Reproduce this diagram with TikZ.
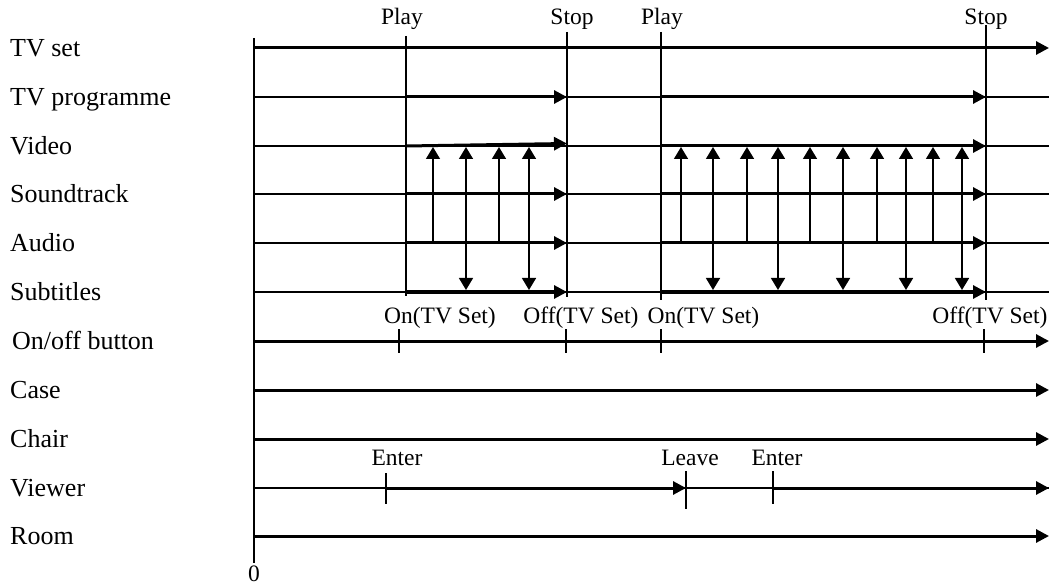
\documentclass[tikz,border=0pt]{standalone}
\usepackage{fontspec}
\setmainfont{Liberation Serif}
\usetikzlibrary{arrows.meta}
\begin{document}
\begin{tikzpicture}[x=1pt,y=-1pt,
  thinline/.style={line width=1.2pt},
  thickarrow/.style={line width=3pt,-{Triangle[length=13pt,width=13pt]}},
  marker/.style={line width=1.5pt},
  vup/.style={line width=1.5pt,-{Triangle[length=12pt,width=14pt]}},
  vboth/.style={line width=1.5pt,{Triangle[length=12pt,width=14pt]}-{Triangle[length=12pt,width=14pt]}},
  rowlab/.style={anchor=base west,inner sep=0pt,font=\fontsize{26}{30}\selectfont},
  evlab/.style={anchor=base,inner sep=0pt,font=\fontsize{23.5}{28}\selectfont}
]
\useasboundingbox (0,0) rectangle (1049,585);

% row labels
\node[rowlab] (lTVset) at (10,56.5) {TV set};
\node[rowlab] (lProg) at (10,105.5) {TV programme};
\node[rowlab] (lVideo) at (10,154.5) {Video};
\node[rowlab] (lSound) at (10,202.5) {Soundtrack};
\node[rowlab] (lAudio) at (10,251.5) {Audio};
\node[rowlab] (lSub) at (10,300.5) {Subtitles};
\node[rowlab] (lOnoff) at (12,349.5) {On/off button};
\node[rowlab] (lCase) at (10,398.5) {Case};
\node[rowlab] (lChair) at (10,447.5) {Chair};
\node[rowlab] (lViewer) at (10,496.5) {Viewer};
\node[rowlab] (lRoom) at (10,544.5) {Room};

% time axis
\coordinate (axTop) at (254,38);
\coordinate (axBot) at (254,563);
\draw[marker] (axTop) -- (axBot);
\node[evlab] (zero) at (254,581) {0};

% row end points
\foreach \n/\y in {tvset/48,prog/97,video/146,sound/194,audio/243,sub/292,onoff/341,case/390,chair/439,viewer/488,room/536}{
  \coordinate (\n L) at (254,\y);
  \coordinate (\n R) at (1049,\y);
}

% full thick lifelines
\foreach \n in {tvset,onoff,case,chair,room}{
  \draw[thickarrow] (\n L) -- (\n R);
}
% thin base lines
\foreach \n in {prog,video,sound,audio,sub,viewer}{
  \draw[thinline] (\n L) -- (\n R);
}

% Play / Stop lines
\coordinate (play1T) at (406,36);  \coordinate (play1B) at (406,296);
\coordinate (stop1T) at (567,32);  \coordinate (stop1B) at (567,297);
\coordinate (play2T) at (661,32);  \coordinate (play2B) at (661,300);
\coordinate (stop2T) at (986,25);  \coordinate (stop2B) at (986,300);
\draw[marker] (play1T) -- (play1B);
\draw[marker] (stop1T) -- (stop1B);
\draw[marker] (play2T) -- (play2B);
\draw[marker] (stop2T) -- (stop2B);
\node[evlab] (tPlay1) at (402,25) {Play};
\node[evlab] (tStop1) at (572,25) {Stop};
\node[evlab] (tPlay2) at (662,25) {Play};
\node[evlab] (tStop2) at (986,25) {Stop};

% active periods
\foreach \n/\y in {prog/97,sound/194,audio/243,sub/292}{
  \coordinate (\n A1) at (406,\y); \coordinate (\n B1) at (567,\y);
  \coordinate (\n A2) at (661,\y); \coordinate (\n B2) at (986,\y);
  \draw[thickarrow] (\n A1) -- (\n B1);
  \draw[thickarrow] (\n A2) -- (\n B2);
}
\coordinate (videoA1) at (406,146); \coordinate (videoB1) at (567,143.5);
\coordinate (videoA2) at (661,146); \coordinate (videoB2) at (986,146);
\draw[thickarrow] (videoA1) -- (videoB1);
\draw[thickarrow] (videoA2) -- (videoB2);

% vertical arrows, first period
\foreach \x in {433,499}{
  \coordinate (uA\x) at (\x,243); \coordinate (uV\x) at (\x,147);
  \draw[vup] (uA\x) -- (uV\x);
}
\foreach \x in {466,529}{
  \coordinate (dS\x) at (\x,290); \coordinate (dV\x) at (\x,147);
  \draw[vboth] (dS\x) -- (dV\x);
}
% vertical arrows, second period
\foreach \x in {681,747,810,877,933}{
  \coordinate (uA\x) at (\x,243); \coordinate (uV\x) at (\x,147);
  \draw[vup] (uA\x) -- (uV\x);
}
\foreach \x in {713,778,843,906,962}{
  \coordinate (dS\x) at (\x,290); \coordinate (dV\x) at (\x,147);
  \draw[vboth] (dS\x) -- (dV\x);
}

% On/off ticks
\foreach \n/\x in {on1/399,off1/566,on2/661,off2/984}{
  \coordinate (\n T) at (\x,329); \coordinate (\n B) at (\x,353);
  \draw[marker] (\n T) -- (\n B);
}
\node[evlab] (tOn1) at (440,323) {On(TV Set)};
\node[evlab] (tOff1) at (581,323) {Off(TV Set)};
\node[evlab] (tOn2) at (703.5,323) {On(TV Set)};
\node[evlab] (tOff2) at (990,323) {Off(TV Set)};

% Viewer
\coordinate (ent1T) at (386,473); \coordinate (ent1B) at (386,504);
\coordinate (leaveT) at (686,471); \coordinate (leaveB) at (686,509);
\coordinate (ent2T) at (773,471); \coordinate (ent2B) at (773,504);
\draw[marker] (ent1T) -- (ent1B);
\draw[marker] (leaveT) -- (leaveB);
\draw[marker] (ent2T) -- (ent2B);
\coordinate (vE1) at (386,488); \coordinate (vL) at (686,488); \coordinate (vE2) at (773,488);
\draw[thickarrow] (vE1) -- (vL);
\draw[thickarrow] (vE2) -- (viewerR);
\node[evlab] (tEnter1) at (397,465.5) {Enter};
\node[evlab] (tLeave) at (690,465.5) {Leave};
\node[evlab] (tEnter2) at (777,465.5) {Enter};
\end{tikzpicture}
\end{document}
